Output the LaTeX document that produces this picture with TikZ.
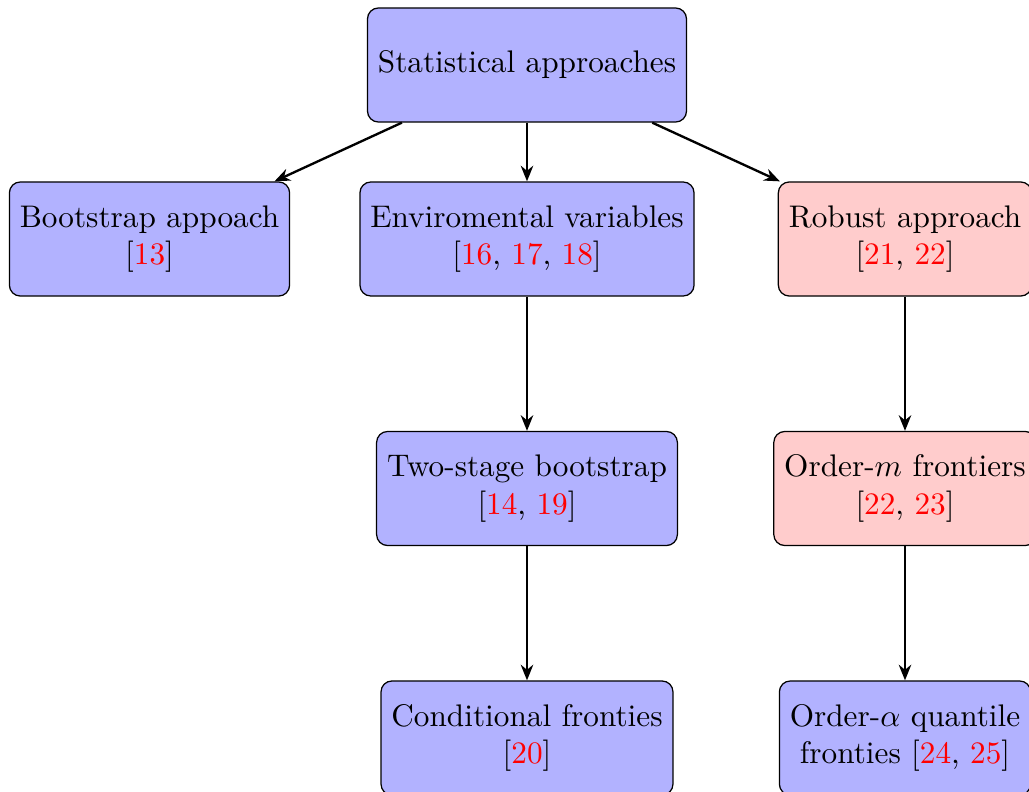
\documentclass[tikz,border=0pt]{standalone}
\usetikzlibrary{arrows.meta}
\newcommand{\rc}[1]{\textcolor{red}{#1}}
\begin{document}
\begin{tikzpicture}[x=0.32pt,y=-0.32pt,
  box/.style={draw=black, rounded corners=3.5pt, fill=blue!30, minimum height=36.5pt, align=center},
  pbox/.style={box, fill=red!20},
  arr/.style={-{Stealth[length=5pt,width=4pt]}, line width=0.75pt}]
\useasboundingbox (0,0) rectangle (1029,792);
\clip (0,0) rectangle (1029,792);
\node[box] (top) at (527,65) {Statistical approaches};
\node[box] (boot) at (149.5,239) {Bootstrap appoach\\{[\rc{13}]}};
\node[box] (env) at (527,239) {Enviromental variables\\{[\rc{16}, \rc{17}, \rc{18}]}};
\node[pbox] (rob) at (905,239) {Robust approach\\{[\rc{21}, \rc{22}]}};
\node[box] (two) at (527,488.5) {Two-stage bootstrap\\{[\rc{14}, \rc{19}]}};
\node[pbox] (ordm) at (905,488.5) {Order-$m$ frontiers\\{[\rc{22}, \rc{23}]}};
\node[box] (cond) at (527,738) {Conditional fronties\\{[\rc{20}]}};
\node[box] (orda) at (905,738) {Order-$\alpha$ quantile\\fronties {[\rc{24}, \rc{25}]}};
\draw[arr] (top) -- (boot);
\draw[arr] (top) -- (env);
\draw[arr] (top) -- (rob);
\draw[arr] (env) -- (two);
\draw[arr] (two) -- (cond);
\draw[arr] (rob) -- (ordm);
\draw[arr] (ordm) -- (orda);
\end{tikzpicture}
\end{document}
